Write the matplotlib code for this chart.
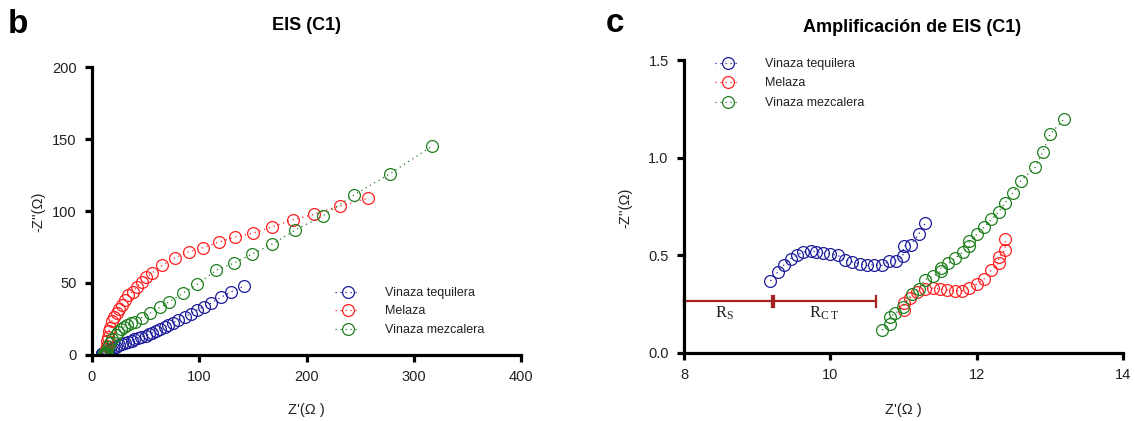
import matplotlib
matplotlib.use("Agg")
import matplotlib.pyplot as plt
from matplotlib.lines import Line2D

plt.rcParams['font.family'] = ['Liberation Sans', 'DejaVu Sans']
plt.rcParams['mathtext.fontset'] = 'custom'
plt.rcParams['mathtext.rm'] = 'Liberation Serif'
plt.rcParams['mathtext.it'] = 'Liberation Serif:italic'

series_names = ["Vinaza tequilera", "Melaza", "Vinaza mezcalera"]
series_colors = ["#1c1c9c", "#ff2020", "#1f7f1f"]

# Vinaza tequilera (Z', -Z'')
tequilera_x = [9.18, 9.28, 9.37, 9.46, 9.55, 9.63, 9.73, 9.81, 9.90, 10.0, 10.1, 10.2,
               10.3, 10.4, 10.5, 10.6, 10.7, 10.8, 10.9, 10.99, 11.0, 11.1, 11.21, 11.3,
               13, 15, 17, 19.5, 22, 25, 28, 31, 34, 37, 39.5, 43, 46, 50, 53, 56, 59.8,
               63, 67.8, 71, 75.4, 80, 86.4, 92, 97.7, 104, 111, 120, 129.6, 142]
tequilera_y = [0.369, 0.414, 0.452, 0.483, 0.503, 0.517, 0.524, 0.517, 0.512, 0.507, 0.50, 0.478,
               0.466, 0.457, 0.448, 0.452, 0.448, 0.469, 0.473, 0.495, 0.546, 0.555, 0.61, 0.667,
               2.3, 3.1, 3.9, 4.8, 5.8, 6.6, 7.4, 8.2, 9.0, 10.0, 10.9, 11.8, 12.7, 13.5, 14.4, 15.5, 16.7,
               17.8, 19.4, 20.8, 22.5, 24.0, 26.6, 28.8, 31.2, 33.5, 36.0, 40.0, 43.8, 48.0]

# Melaza
melaza_x = [11.0, 11.0, 11.09, 11.19, 11.29, 11.4, 11.5, 11.6, 11.7, 11.8, 11.9, 12.0,
            12.1, 12.2, 12.3, 12.3, 12.39, 12.39,
            12.8, 13.2, 13.7, 14.3, 15.0, 16.0, 17.0, 18.5, 20.6, 23, 25, 28, 31, 34, 38,
            42, 46.5, 50.5, 55.5, 65.4, 77.7, 90, 103.6, 118.6, 133.5, 150, 168, 187, 207,
            231.5, 257.5]
melaza_y = [0.22, 0.254, 0.28, 0.314, 0.328, 0.332, 0.328, 0.323, 0.318, 0.318, 0.335, 0.352,
            0.38, 0.426, 0.46, 0.49, 0.529, 0.584,
            2.0, 4.0, 6.5, 9.5, 12.5, 16.7, 19.0, 23.5, 26.4, 29.5, 31.7, 35.0, 38.0, 41.5, 44.0,
            47.5, 50.7, 54.0, 56.7, 62.3, 67.6, 71.5, 74.5, 78.5, 82.0, 84.5, 89.0, 93.8, 97.7,
            103.5, 109.0]

# Vinaza mezcalera
mezcalera_x = [10.71, 10.81, 10.81, 10.89, 10.99, 11.11, 11.21, 11.29, 11.4, 11.51, 11.51,
               11.61, 11.71, 11.81, 11.9, 11.9, 12.0, 12.1, 12.2, 12.3, 12.39, 12.5, 12.6,
               12.8, 12.9, 13.0, 13.2,
               14, 15, 17, 19, 22, 24.5, 27, 30, 33, 36.5, 40, 46.5, 54, 63, 72, 85, 98,
               116, 132, 149, 168, 189, 215, 244, 278, 317]
mezcalera_y = [0.117, 0.146, 0.186, 0.203, 0.237, 0.30, 0.328, 0.375, 0.392, 0.418, 0.435,
               0.46, 0.486, 0.517, 0.546, 0.572, 0.607, 0.644, 0.684, 0.722, 0.77, 0.821, 0.881,
               0.95, 1.027, 1.119, 1.2,
               3.0, 5.5, 8.5, 11.0, 14.0, 16.0, 18.0, 19.5, 20.6, 22.0, 23.0, 26.0, 29.0, 33.0,
               37.0, 43.0, 49.0, 59.0, 63.7, 70.0, 77.0, 86.6, 96.5, 111.0, 126.0, 145.0]

series_x = [tequilera_x, melaza_x, mezcalera_x]
series_y = [tequilera_y, melaza_y, mezcalera_y]

left_xlim, left_ylim = (0, 400), (0, 200)
right_xlim, right_ylim = (8, 14), (0, 1.5)
left_xticks = [0, 100, 200, 300, 400]
left_yticks = [0, 50, 100, 150, 200]
right_xticks = [8, 10, 12, 14]
right_yticks = [0.0, 0.5, 1.0, 1.5]

# resistance markers (Z' values)
rs_start, rs_end, rct_end = 8.0, 9.2, 10.63
bar_level = 0.266

W, H = 1135, 421
fig = plt.figure(figsize=(W / 100, H / 100), dpi=100)

def px_axes(x0, x1, y0, y1):
    return fig.add_axes([x0 / W, 1 - y1 / H, (x1 - x0) / W, (y1 - y0) / H])

axL = px_axes(92, 521, 67, 355)
axR = px_axes(684, 1123, 60, 353)

def in_view(xs, ys, xlim, ylim):
    pts = [(x, y) for x, y in zip(xs, ys)
           if xlim[0] <= x <= xlim[1] and ylim[0] <= y <= ylim[1]]
    return [p[0] for p in pts], [p[1] for p in pts]

for ax, xlim, ylim in ((axL, left_xlim, left_ylim), (axR, right_xlim, right_ylim)):
    for name, xs, ys, c in zip(series_names, series_x, series_y, series_colors):
        vx, vy = in_view(xs, ys, xlim, ylim)
        ax.plot(vx, vy, linestyle=(0, (1, 3)), lw=0.9, color=c, marker='o',
                markersize=8.5, markerfacecolor='none', markeredgewidth=0.9,
                markeredgecolor=c, label=name)
    ax.spines['top'].set_visible(False)
    ax.spines['right'].set_visible(False)
    ax.spines['left'].set_linewidth(2.3)
    ax.spines['bottom'].set_linewidth(2.3)
    ax.tick_params(axis='both', direction='out', length=5, width=2.3,
                   labelsize=10.5, pad=6, colors='black')
    ax.set_xlim(*xlim)
    ax.set_ylim(*ylim)

axL.set_xticks(left_xticks)
axL.set_yticks(left_yticks)
axR.set_xticks(right_xticks)
axR.set_yticks(right_yticks)
axR.set_yticklabels([f"{v:.1f}" for v in right_yticks])

for ax in (axL, axR):
    for lab in ax.get_xticklabels() + ax.get_yticklabels():
        lab.set_color('#222222')
    for sp in ax.spines.values():
        sp.set_zorder(5)

# Legends
def legend_handles():
    return [Line2D([], [], linestyle=(0, (1, 3)), lw=0.9, color=c, marker='o',
                   markersize=8.5, markerfacecolor='none', markeredgewidth=0.9)
            for c in series_colors]

legL = fig.legend(legend_handles(), series_names, loc='upper left',
                  bbox_to_anchor=(335 / W, 1 - 287 / H), frameon=False,
                  fontsize=9, handlelength=2.0, handletextpad=2.0,
                  labelspacing=0.52, borderpad=0, borderaxespad=0)
legR = fig.legend(legend_handles(), series_names, loc='upper left',
                  bbox_to_anchor=(715 / W, 1 - 58 / H), frameon=False,
                  fontsize=9, handlelength=2.0, handletextpad=2.0,
                  labelspacing=0.6, borderpad=0, borderaxespad=0)
for leg in (legL, legR):
    for t in leg.get_texts():
        t.set_color('#222222')

# Resistance bar annotation
bar_color = '#a52222'
axR.plot([rs_start, rct_end], [bar_level, bar_level], color=bar_color, lw=1.6,
         clip_on=False, zorder=4)
cap = 0.028
for xv in (rs_start, rs_end, rs_end + 0.03, rct_end):
    axR.plot([xv, xv], [bar_level - cap, bar_level + cap], color=bar_color, lw=1.6,
             clip_on=False, zorder=4)
axR.text((rs_start + rs_end) / 2 - 0.05, 0.205, r'$\mathrm{R}_{\mathrm{S}}$',
         ha='center', va='center', fontsize=12, color='#222222')
axR.text((rs_end + rct_end) / 2, 0.205, r'$\mathrm{R}_{\mathrm{C\ T}}$',
         ha='center', va='center', fontsize=12, color='#222222')

# Axis labels
fig.text(306 / W, 1 - 410 / H, "Z'(Ω )", ha='center', va='center', fontsize=10.5,
         color='#222222')
fig.text(38 / W, 1 - 212 / H, "-Z''(Ω)", ha='center', va='center', fontsize=10.5,
         rotation=90, color='#222222')
fig.text(903 / W, 1 - 410 / H, "Z'(Ω )", ha='center', va='center', fontsize=10.5,
         color='#222222')
fig.text(625 / W, 1 - 208 / H, "-Z''(Ω)", ha='center', va='center', fontsize=10.5,
         rotation=90, color='#222222')

# Titles and panel letters
fig.text(306 / W, 1 - 25 / H, "EIS (C1)", ha='center', va='center', fontsize=13,
         fontweight='bold')
fig.text(912 / W, 1 - 27 / H, "Amplificación de EIS (C1)", ha='center', va='center',
         fontsize=13, fontweight='bold')
fig.text(8 / W, 1 - 33 / H, "b", ha='left', va='baseline', fontsize=24, fontweight='bold')
fig.text(606 / W, 1 - 32 / H, "c", ha='left', va='baseline', fontsize=24, fontweight='bold')

fig.savefig("out.png", dpi=100)
